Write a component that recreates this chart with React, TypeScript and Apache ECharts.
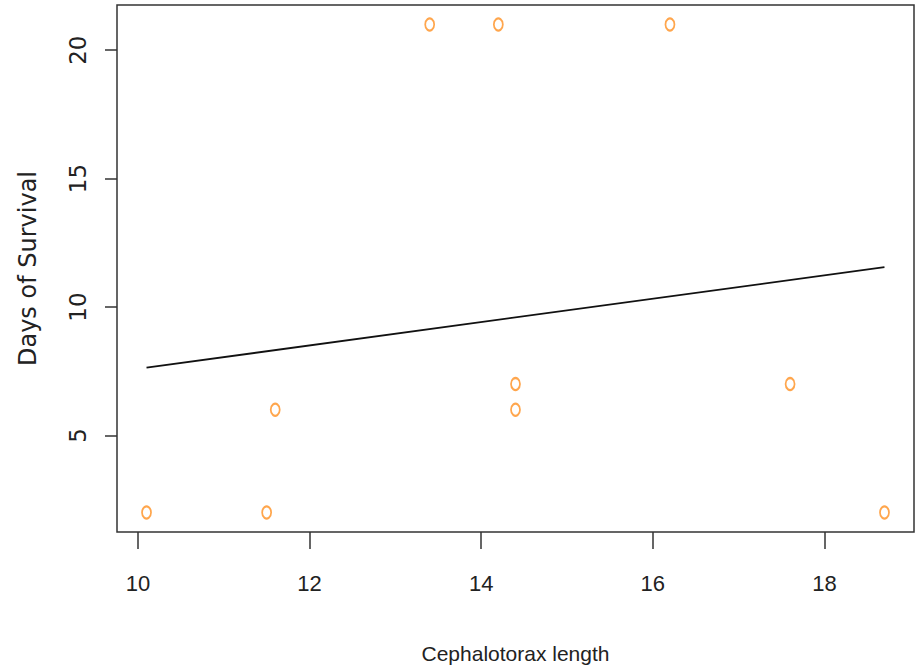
import React, { useEffect, useRef } from "react";
import * as echarts from "echarts";

const cephalotoraxLength = [10.1, 11.5, 11.6, 13.4, 14.2, 14.4, 14.4, 16.2, 17.6, 18.7];
const daysOfSurvival = [2, 2, 6, 21, 21, 7, 6, 21, 7, 2];
const fitLineX = [10.1, 18.7];
const fitLineY = [7.64, 11.55];
const xTicks = [10, 12, 14, 16, 18];
const yTicks = [5, 10, 15, 20];

const FONT = "Liberation Sans, Arial, sans-serif";
const VFONT = "DejaVu Sans, sans-serif";

export default function App() {
  const ref = useRef<HTMLDivElement>(null);
  useEffect(() => {
    const chart = echarts.init(ref.current!, null, { renderer: "svg" });
    chart.setOption({
      animation: false,
      backgroundColor: "#ffffff",
      grid: {
        left: 117,
        right: 8,
        top: 5,
        bottom: 140,
        show: true,
        borderColor: "#333333",
        borderWidth: 1.5,
        backgroundColor: "transparent",
      },
      xAxis: {
        type: "value",
        min: 9.756,
        max: 19.044,
        name: "Cephalotorax length",
        nameLocation: "middle",
        nameGap: 111,
        nameTextStyle: { fontFamily: FONT, fontSize: 21, color: "#222" },
        axisLine: { show: false },
        splitLine: { show: false },
        axisTick: {
          show: true,
          length: 17,
          customValues: xTicks,
          lineStyle: { color: "#333", width: 1.5 },
        },
        axisLabel: {
          customValues: xTicks,
          margin: 40,
          fontFamily: FONT,
          fontSize: 22,
          color: "#222",
        },
      },
      yAxis: {
        type: "value",
        min: 1.24,
        max: 21.76,
        name: "Days of Survival",
        nameLocation: "middle",
        nameGap: 77,
        nameRotate: 90,
        nameTextStyle: { fontFamily: VFONT, fontSize: 24, color: "#222" },
        axisLine: { show: false },
        splitLine: { show: false },
        axisTick: {
          show: true,
          length: 12,
          customValues: yTicks,
          lineStyle: { color: "#333", width: 1.5 },
        },
        axisLabel: {
          customValues: yTicks,
          rotate: 90,
          margin: 28,
          fontFamily: VFONT,
          fontSize: 23,
          color: "#222",
        },
      },
      series: [
        {
          type: "line",
          data: fitLineX.map((x, i) => [x, fitLineY[i]]),
          showSymbol: false,
          lineStyle: { color: "#111", width: 1.8 },
          z: 2,
        },
        {
          type: "scatter",
          data: cephalotoraxLength.map((x, i) => [x, daysOfSurvival[i]]),
          symbol: "emptyCircle",
          symbolSize: [9, 12],
          itemStyle: { color: "#FF9020", borderColor: "#FF9020", borderWidth: 1.6 },
          z: 3,
        },
      ],
    });
    return () => chart.dispose();
  }, []);
  return <div ref={ref} style={{ width: 922, height: 672, position: "absolute", left: 0, top: 0 }} />;
}
